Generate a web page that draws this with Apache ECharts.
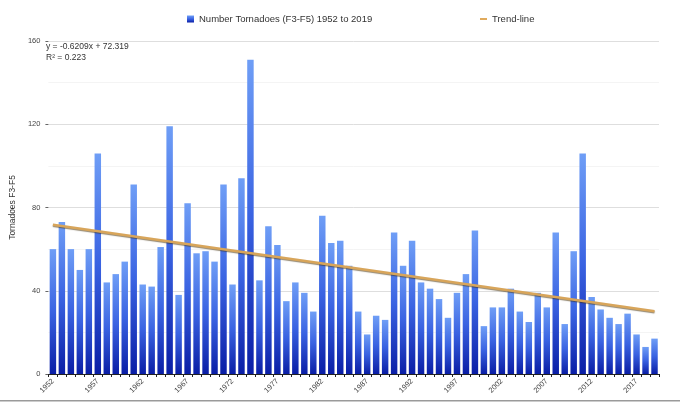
<!DOCTYPE html>
<html>
<head>
<meta charset="utf-8">
<script src="https://cdn.jsdelivr.net/npm/echarts@6/dist/echarts.min.js"></script>
<style>
html,body{margin:0;padding:0;background:#fff;}
#main{width:680px;height:403px;}
</style>
</head>
<body>
<div id="main"></div>
<script>
// years 1952..2019
var years = [];
for (var y = 1952; y <= 2019; y++) { years.push(String(y)); }

// F3-F5 tornado counts
var tornadoes = [
	60, 73, 60, 50, 60, 106, 44, 48, 54, 91,
	43, 42, 61, 119, 38, 82, 58, 59, 54, 91,
	43, 94, 151, 45, 71, 62, 35, 44, 39, 30,
	76, 63, 64, 52, 30, 19, 28, 26, 68, 52,
	64, 44, 41, 36, 27, 39, 48, 69, 23, 32,
	32, 41, 30, 25, 39, 32, 68, 24, 59, 106,
	37, 31, 27, 24, 29, 19, 13, 17
];

// trend-line end points (first and last year), rest left empty
var trendStart = 71.7;
var trendEnd = 30.1;
var trend = [];
for (var i = 0; i < years.length; i++) { trend.push(null); }
trend[0] = trendStart;
trend[years.length - 1] = trendEnd;

var yTicks = [0, 40, 80, 120, 160];

var myChart = echarts.init(document.getElementById('main'));
var font = 'Liberation Sans, Arial, sans-serif';

option = {
	backgroundColor: '#fff',
	animation: false,
	textStyle: { fontFamily: font },
	title: {
		text: 'y = -0.6209x + 72.319\nR² = 0.223',
		left: 46,
		top: 41,
		padding: 0,
		textStyle: { fontSize: 8.5, fontWeight: 'normal', color: '#333', lineHeight: 11, fontFamily: font }
	},
	legend: [
		{
			data: ['Number Tornadoes (F3-F5) 1952 to 2019'],
			left: 182,
			top: 9,
			icon: 'rect',
			itemWidth: 7,
			itemHeight: 7,
			itemGap: 6,
			textStyle: { fontSize: 9.5, color: '#333', fontFamily: font }
		},
		{
			data: ['Trend-line'],
			left: 475,
			top: 9,
			icon: 'rect',
			itemWidth: 7,
			itemHeight: 2,
			textStyle: { fontSize: 9.5, color: '#333', fontFamily: font }
		}
	],
	grid: { left: 44, right: 21, top: 41, bottom: 29, containLabel: false },
	xAxis: {
		type: 'category',
		data: years,
		boundaryGap: true,
		axisLine: { lineStyle: { color: '#222', width: 1 } },
		axisTick: { show: true, interval: 0, length: 3, lineStyle: { color: '#222' } },
		axisLabel: { interval: 4, rotate: 45, fontSize: 7.5, color: '#444', margin: 6, fontFamily: font }
	},
	yAxis: {
		type: 'value',
		min: yTicks[0],
		max: yTicks[yTicks.length - 1],
		interval: 40,
		name: 'Tornadoes F3-F5',
		nameLocation: 'middle',
		nameGap: 24,
		nameTextStyle: { fontSize: 8.5, color: '#333', fontFamily: font },
		axisLine: { show: false },
		axisTick: { show: true, length: 3, lineStyle: { color: '#666' } },
		axisLabel: { fontSize: 7.5, color: '#444', margin: 8, fontFamily: font },
		splitLine: { lineStyle: { color: '#dedede', width: 1 } },
		minorTick: { show: false, splitNumber: 2 },
		minorSplitLine: { show: true, lineStyle: { color: '#f4f4f4', width: 1 } }
	},
	series: [
		{
			name: 'Number Tornadoes (F3-F5) 1952 to 2019',
			type: 'bar',
			data: tornadoes,
			barWidth: '72%',
			itemStyle: {
				color: new echarts.graphic.LinearGradient(0, 0, 0, 1, [
					{ offset: 0, color: '#6f9ef6' },
					{ offset: 0.5, color: '#3a63e2' },
					{ offset: 1, color: '#0a1ea6' }
				])
			}
		},
		{
			name: 'Trend-line',
			type: 'line',
			data: trend,
			connectNulls: true,
			symbol: 'none',
			itemStyle: { color: '#e0aa5c' },
			lineStyle: {
				color: '#d8a55a',
				width: 2.5,
				shadowColor: 'rgba(60,40,0,0.55)',
				shadowBlur: 1,
				shadowOffsetY: 1
			},
			z: 5
		}
	],
	graphic: [
		{
			type: 'rect',
			shape: { x: 0, y: 400, width: 680, height: 1.5 },
			style: { fill: '#9a9a9a' },
			silent: true
		}
	]
};
myChart.setOption(option);
</script>
</body>
</html>
